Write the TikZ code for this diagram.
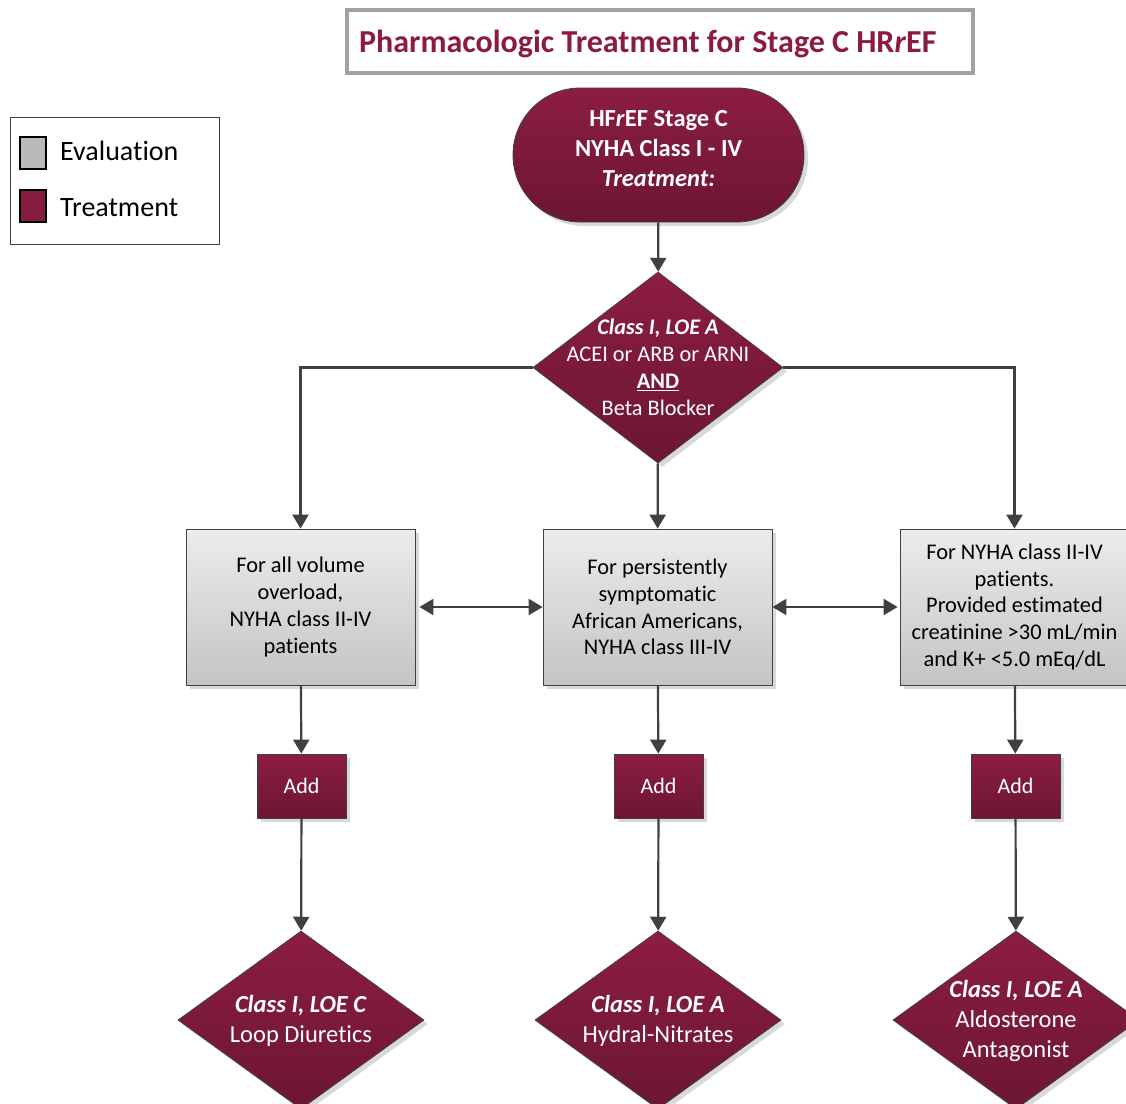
\documentclass[tikz,border=0pt]{standalone}
\usepackage{fontspec}
\setmainfont[Ligatures=NoCommon]{Carlito}
\usetikzlibrary{shapes.geometric,arrows.meta,shadows}
\definecolor{maroonT}{HTML}{8C1D42}
\definecolor{maroonB}{HTML}{6C1631}
\definecolor{maroonS}{HTML}{861B40}
\definecolor{titlered}{HTML}{8B1A45}
\definecolor{linegray}{HTML}{404040}
\definecolor{evalT}{HTML}{ECECEC}
\definecolor{evalB}{HTML}{C4C4C4}
\begin{document}
\begin{tikzpicture}[x=1pt,y=-1pt,
  shd/.style={drop shadow={shadow xshift=4pt,shadow yshift=-4pt,fill=black,opacity=0.15}},
  treat/.style={top color=maroonT,bottom color=maroonB,draw=linegray,line width=0.8pt,text=white,shd},
  evalbox/.style={top color=evalT,bottom color=evalB,draw=linegray,line width=0.8pt,shd,
    minimum width=229pt,minimum height=156pt,inner sep=0pt,align=center,
    font=\fontsize{22.4}{26.7}\selectfont},
  addbox/.style={treat,minimum width=89pt,minimum height=64pt,inner sep=0pt,font=\fontsize{22}{26}\selectfont},
  dia/.style={treat,diamond,inner sep=0pt},
  wtxt/.style={text=white,align=center},
  tip/.style={Triangle[length=14pt,width=16pt]},
  arr/.style={draw=linegray,line width=2.2pt,-{Triangle[length=14pt,width=16pt]}},
  dbl/.style={draw=linegray,line width=2.2pt,{Triangle[length=14pt,width=16pt]}-{Triangle[length=14pt,width=16pt]}}]
\useasboundingbox (0,0) rectangle (1126,1103);
% title
\node[draw=black!37,line width=4pt,minimum width=626pt,minimum height=63pt,inner sep=0pt] (titlebox) at (660,41.5) {};
\node[anchor=west,text=titlered,font=\fontsize{32}{36}\selectfont\bfseries,inner sep=0pt] (title) at (359,44)
  {Pharmacologic Treatment for Stage C HR\textit{r}EF};
% legend
\node[draw=linegray,line width=1pt,minimum width=209pt,minimum height=127pt,inner sep=0pt] (legend) at (114.5,180.5) {};
\node[draw=black,line width=2pt,fill=evalB!95!black,minimum width=26pt,minimum height=32pt,inner sep=0pt] (sw1) at (33,153) {};
\node[draw=black,line width=2pt,fill=maroonS,minimum width=26pt,minimum height=32pt,inner sep=0pt] (sw2) at (33,206) {};
\node[anchor=west,font=\fontsize{28}{32}\selectfont,inner sep=0pt] (l1) at (60,151) {Evaluation};
\node[anchor=west,font=\fontsize{28}{32}\selectfont,inner sep=0pt] (l2) at (60,208) {Treatment};
% start
\node[treat,rounded corners=67pt,minimum width=291pt,minimum height=134pt,inner sep=0pt] (start) at (658.5,155) {};
\node[wtxt,font=\fontsize{24.5}{30}\selectfont\bfseries] (startt) at (658.5,149)
  {HF\textit{r}EF Stage C\\NYHA Class I - IV\\\textit{Treatment:}};
% main diamond
\node[dia,minimum width=250pt,minimum height=191pt] (d1) at (658,367.5) {};
\node[wtxt,font=\fontsize{22.3}{27}\selectfont] (d1t) at (658,367.5)
  {\textbf{\textit{Class I, LOE A}}\\ACEI or ARB or ARNI\\\textbf{\underline{AND}}\\Beta Blocker};
% evaluation boxes
\node[evalbox] (b1) at (300.5,607) {For all volume\\overload,\\NYHA class II-IV\\patients};
\node[evalbox] (b2) at (657.5,607) {For persistently\\symptomatic\\African Americans,\\NYHA class III-IV};
\node[evalbox] (b3) at (1014.5,607) {For NYHA class II-IV\\patients.\\Provided estimated\\creatinine >30 mL/min\\and K+ <5.0 mEq/dL};
% add boxes
\node[addbox] (a1) at (301.5,786) {Add};
\node[addbox] (a2) at (658.5,786) {Add};
\node[addbox] (a3) at (1015.5,786) {Add};
% bottom diamonds
\node[dia,minimum width=246pt,minimum height=178pt] (e1) at (301,1020) {};
\node[dia,minimum width=246pt,minimum height=178pt] (e2) at (658,1020) {};
\node[dia,minimum width=246pt,minimum height=178pt] (e3) at (1016,1020) {};
\node[wtxt,font=\fontsize{24.5}{30}\selectfont] (e1t) at (301,1021) {\textbf{\textit{Class I, LOE C}}\\Loop Diuretics};
\node[wtxt,font=\fontsize{24.5}{30}\selectfont] (e2t) at (658,1021) {\textbf{\textit{Class I, LOE A}}\\Hydral-Nitrates};
\node[wtxt,font=\fontsize{24.5}{30}\selectfont] (e3t) at (1016,1021) {\textbf{\textit{Class I, LOE A}}\\Aldosterone\\Antagonist};
% connectors
\draw[arr] (start) -- (d1);
\draw[arr] (d1.west) -| (b1);
\draw[arr] (d1) -- (b2);
\draw[arr] (d1.east) -| (b3);
\draw[dbl,shorten <=4pt] (b1) -- (b2);
\draw[dbl,shorten >=2pt] (b2) -- (b3);
\draw[arr] (b1) -- (a1);
\draw[arr] (b2) -- (a2);
\draw[arr] (b3) -- (a3);
\draw[arr] (a1) -- (e1);
\draw[arr] (a2) -- (e2);
\draw[arr] (a3) -- (e3);
\end{tikzpicture}
\end{document}
